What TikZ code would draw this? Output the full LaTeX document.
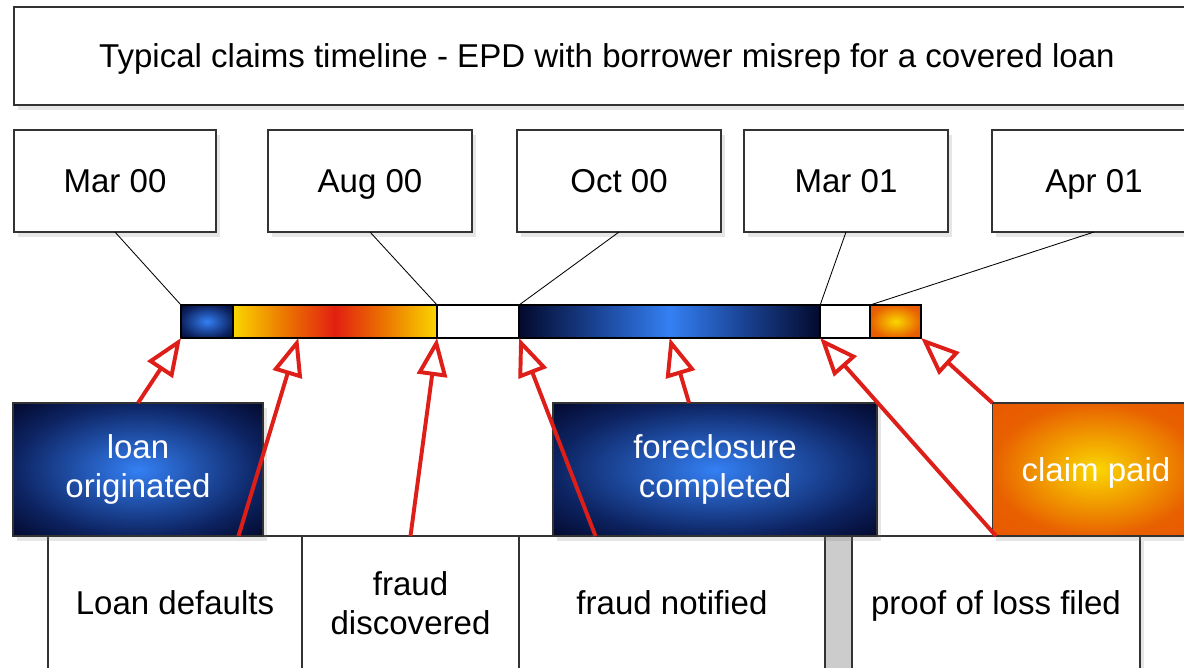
\documentclass[tikz,border=0pt]{standalone}
\usepackage{fontspec}
\setmainfont{Liberation Sans}
\usetikzlibrary{positioning,calc,arrows.meta,shadows}
\definecolor{navy}{RGB}{4,14,64}
\definecolor{brightblue}{RGB}{52,128,244}
\definecolor{sunyellow}{RGB}{250,214,0}
\definecolor{sunorange}{RGB}{232,96,0}
\definecolor{hotred}{RGB}{226,32,16}
\definecolor{arrowred}{RGB}{222,30,24}

\pgfdeclareradialshading{bluecore}{\pgfpointorigin}{color(0bp)=(brightblue); color(12bp)=(brightblue!60!navy); color(25bp)=(brightblue!18!navy); color(35bp)=(navy!75!black); color(50bp)=(navy!75!black)}
\pgfdeclareradialshading{orangecore}{\pgfpointorigin}{color(0bp)=(sunyellow); color(14bp)=(sunyellow!45!sunorange); color(25bp)=(sunorange); color(35bp)=(sunorange!92!red); color(50bp)=(sunorange!92!red)}
\pgfdeclarehorizontalshading{heatbar}{100bp}{color(0bp)=(sunyellow); color(25bp)=(sunyellow); color(37.5bp)=(sunorange!80!sunyellow); color(50bp)=(hotred); color(62.5bp)=(sunorange!80!sunyellow); color(75bp)=(sunyellow); color(100bp)=(sunyellow)}
\pgfdeclarehorizontalshading{bluebar}{100bp}{color(0bp)=(navy!70!black); color(25bp)=(navy!70!black); color(37.5bp)=(brightblue!45!navy); color(50bp)=(brightblue); color(62.5bp)=(brightblue!45!navy); color(75bp)=(navy!70!black); color(100bp)=(navy!70!black)}

\tikzset{
	box/.style={draw=black!80, line width=1pt, fill=white, outer sep=0pt, inner sep=0pt,
		font=\fontsize{23.5}{28}\selectfont, align=center,
		drop shadow={opacity=.2, shadow xshift=1mm, shadow yshift=-1.2mm}},
	oneline/.style={text height=17pt, text depth=0pt},
	datebox/.style={box, oneline, minimum width=5.1cm, minimum height=2.55cm},
	eventbox/.style={box, minimum height=3.35cm},
	bluebox/.style={box, text=white, shading=bluecore, minimum height=3.325cm},
	orangebox/.style={box, text=white, shading=orangecore, minimum height=3.325cm},
	seg/.style={draw=black, line width=1pt, outer sep=0pt, inner sep=0pt, minimum height=.825cm},
	marker/.style={arrowred, line width=2.8pt, -{Triangle[fill=white, length=9.5mm, width=7.5mm]}},
}

\begin{document}
\begin{tikzpicture}[x=0.025cm, y=-0.025cm]
	\useasboundingbox (0,0) rectangle (1184,667);
	\clip (0,0) rectangle (1184,667);
	\node[box, oneline, minimum width=29.65cm, minimum height=2.45cm] (title) at (607,56) {Typical claims timeline - EPD with borrower misrep for a covered loan};
	% dates
	\node[datebox, minimum width=5.05cm] (mar00) at (115,181) {Mar 00};
	\node[datebox] (aug00) at (370,181) {Aug 00};
	\node[datebox] (oct00) at (619,181) {Oct 00};
	\node[datebox] (mar01) at (846,181) {Mar 01};
	\node[datebox] (apr01) at (1094,181) {Apr 01};
	% bar
	\node[seg, minimum width=1.3cm, shading=bluecore] (seg1) at (207,321.5) {};
	\node[seg, right=0pt of seg1, minimum width=5.1cm, shading=heatbar] (seg2) {};
	\node[seg, right=0pt of seg2, minimum width=2.05cm, fill=white] (seg3) {};
	\node[seg, right=0pt of seg3, minimum width=7.525cm, shading=bluebar] (seg4) {};
	\node[seg, right=0pt of seg4, minimum width=1.25cm, fill=white] (seg5) {};
	\node[seg, right=0pt of seg5, minimum width=1.275cm, shading=orangecore] (seg6) {};
	\draw[line width=.6pt] (mar00.south) -- (seg1.north west);
	\draw[line width=.6pt] (aug00.south) -- (seg2.north east);
	\draw[line width=.6pt] (oct00.south) -- (seg4.north west);
	\draw[line width=.6pt] (mar01.south) -- (seg5.north west);
	\draw[line width=.6pt] (apr01.south) -- (seg6.north west);
	% events
	\node[eventbox, oneline, minimum width=6.35cm] (loandef) at (175,603) {Loan defaults};
	\node[eventbox, minimum width=5.425cm] (fraudfound) at (410.5,603) {fraud\\discovered};
	\node[eventbox, oneline, minimum width=7.65cm] (fraudnote) at (672,603) {fraud notified};
	\node[eventbox, minimum width=.675cm, fill=black!20] (strip) at (838.5,603) {};
	\node[eventbox, oneline, minimum width=7.2cm] (proof) at (996,603) {proof of loss filed};
	\node[bluebox, minimum width=6.25cm] (loanorig) at (138,469.5) {loan\\originated};
	\node[bluebox, minimum width=8.1cm] (forecl) at (715,469.5) {foreclosure\\completed};
	\node[orangebox, oneline, minimum width=5.175cm] (claim) at (1096,469.5) {claim paid};
	% arrows
	\draw[marker] (loanorig.north) -- (seg1.south west);
	\draw[marker] ($(loandef.north west)!.75!(loandef.north east)$) -- ($(seg2.south west)!.32!(seg2.south east)$);
	\draw[marker] (fraudfound.north) -- (seg2.south east);
	\draw[marker] ($(fraudnote.north west)!.25!(fraudnote.north east)$) -- (seg4.south west);
	\draw[marker] ($(forecl.north west)!.42!(forecl.north east)$) -- (seg4.south);
	\draw[marker] (proof.north) -- (seg5.south west);
	\draw[marker] (claim.north west) -- (seg6.south east);
\end{tikzpicture}
\end{document}
